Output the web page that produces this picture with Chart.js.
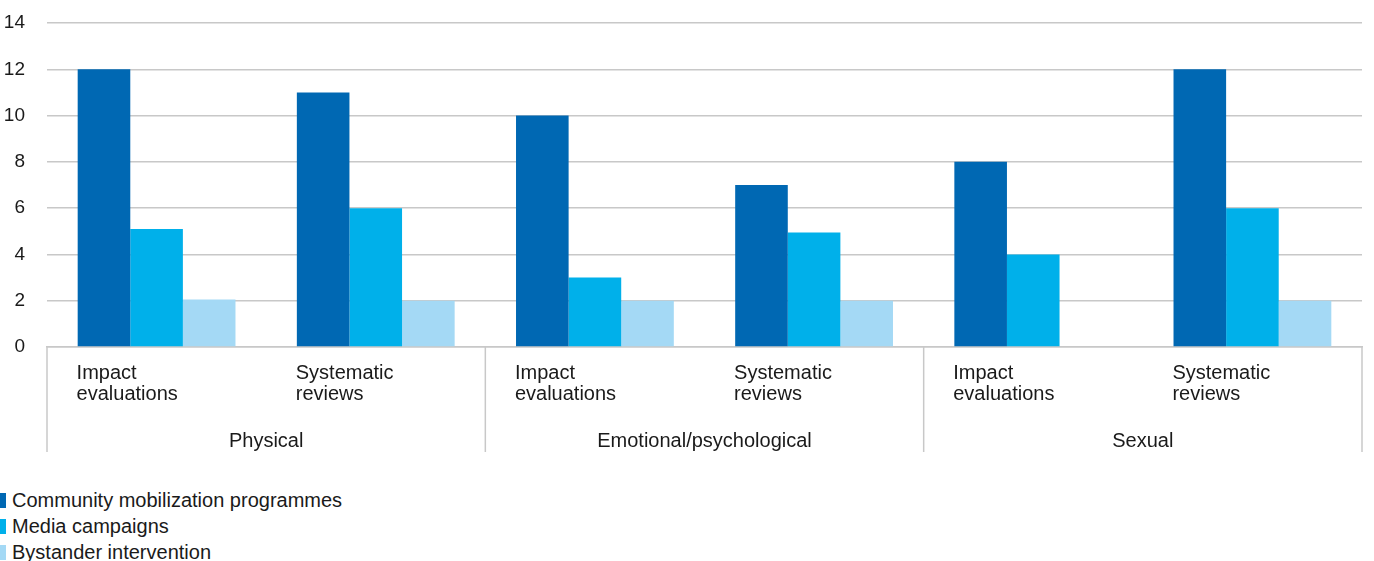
<!DOCTYPE html>
<html>
<head>
<meta charset="utf-8">
<script src="https://cdn.jsdelivr.net/npm/chart.js@4"></script>
<style>
  body { margin: 0; background: #fff; font-family: "Liberation Sans", Arial, sans-serif; }
  #wrap { position: relative; width: 1374px; height: 452px; }
  #legend { position: absolute; left: 0; top: 487px; font-size: 20px; color: #1a1a1a; }
  .item { display: flex; align-items: center; height: 26px; }
  .box { width: 6px; height: 15px; margin-right: 6px; }
</style>
</head>
<body>
<div id="wrap"><canvas id="chart"></canvas></div>
<div id="legend"></div>
<script>
// categorías y valores
const categories = [
    ['Impact', 'evaluations'], ['Systematic', 'reviews'],
    ['Impact', 'evaluations'], ['Systematic', 'reviews'],
    ['Impact', 'evaluations'], ['Systematic', 'reviews']
];
const groups = ['Physical', 'Emotional/psychological', 'Sexual'];
const seriesNames = ['Community mobilization programmes', 'Media campaigns', 'Bystander intervention'];
const community = [12, 11, 10, 7, 8, 12];
const media = [5.1, 6, 3, 4.95, 4, 6];
const bystander = [2.05, 2, 2, 2, 0, 2];
const colors = ['#0068b3', '#00b0ea', '#a4d9f5'];

const gridColor = '#c8c8c8';
const textColor = '#1a1a1a';
const font = "'Liberation Sans', Arial, sans-serif";

// líneas verticales que separan los grupos bajo el eje
const groupLines = {
    id: 'groupLines',
    afterDraw(chart) {
        const ctx = chart.ctx;
        const x = chart.scales.x;
        const bottom = chart.scales.x2.bottom;
        const top = chart.chartArea.bottom;
        const xs = [chart.chartArea.left];
        for (let i = 2; i < categories.length; i += 2) {
            xs.push((x.getPixelForValue(i - 1) + x.getPixelForValue(i)) / 2);
        }
        xs.push(chart.chartArea.right);
        ctx.save();
        ctx.strokeStyle = gridColor;
        ctx.lineWidth = 1.5;
        xs.forEach(px => {
            ctx.beginPath();
            ctx.moveTo(px, top);
            ctx.lineTo(px, bottom);
            ctx.stroke();
        });
        ctx.restore();
    }
};

const datasets = [community, media, bystander].map((values, i) => ({
    label: seriesNames[i],
    data: values,
    backgroundColor: colors[i],
    borderWidth: 0,
    categoryPercentage: 0.72,
    barPercentage: 1
}));

new Chart(document.getElementById('chart'), {
    type: 'bar',
    data: { labels: categories, datasets: datasets },
    plugins: [groupLines],
    options: {
        responsive: true,
        maintainAspectRatio: false,
        animation: false,
        layout: { padding: { left: 4, right: 12, top: 23, bottom: 0 } },
        plugins: {
            legend: { display: false },
            tooltip: { enabled: false }
        },
        scales: {
            x: {
                offset: true,
                grid: { display: false, drawTicks: false },
                border: { display: true, color: gridColor, width: 1.5 },
                afterFit: scale => { scale.height = 59; },
                ticks: {
                    align: 'start',
                    labelOffset: -80,
                    padding: 16,
                    maxRotation: 0,
                    autoSkip: false,
                    color: textColor,
                    font: { family: font, size: 20, lineHeight: 1.05 }
                }
            },
            x2: {
                type: 'category',
                labels: groups,
                position: 'bottom',
                offset: true,
                grid: { display: false, drawTicks: false },
                border: { display: false },
                afterFit: scale => { scale.height = 46; },
                ticks: {
                    padding: 25,
                    maxRotation: 0,
                    color: textColor,
                    font: { family: font, size: 20, lineHeight: 1.05 }
                }
            },
            y: {
                min: 0,
                max: 14,
                border: { display: false },
                grid: { color: gridColor, lineWidth: 1.5, drawTicks: false },
                afterFit: scale => {
                    scale.width = 43;
                    scale.paddingTop = 0;
                    scale.paddingBottom = 0;
                },
                ticks: {
                    stepSize: 2,
                    padding: 22,
                    color: textColor,
                    font: { family: font, size: 19 }
                }
            }
        }
    }
});

// leyenda en HTML, una fila por serie
const legend = document.getElementById('legend');
seriesNames.forEach((name, i) => {
    const row = document.createElement('div');
    row.className = 'item';
    row.innerHTML = '<span class="box" style="background:' + colors[i] + '"></span><span>' + name + '</span>';
    legend.appendChild(row);
});
</script>
</body>
</html>
